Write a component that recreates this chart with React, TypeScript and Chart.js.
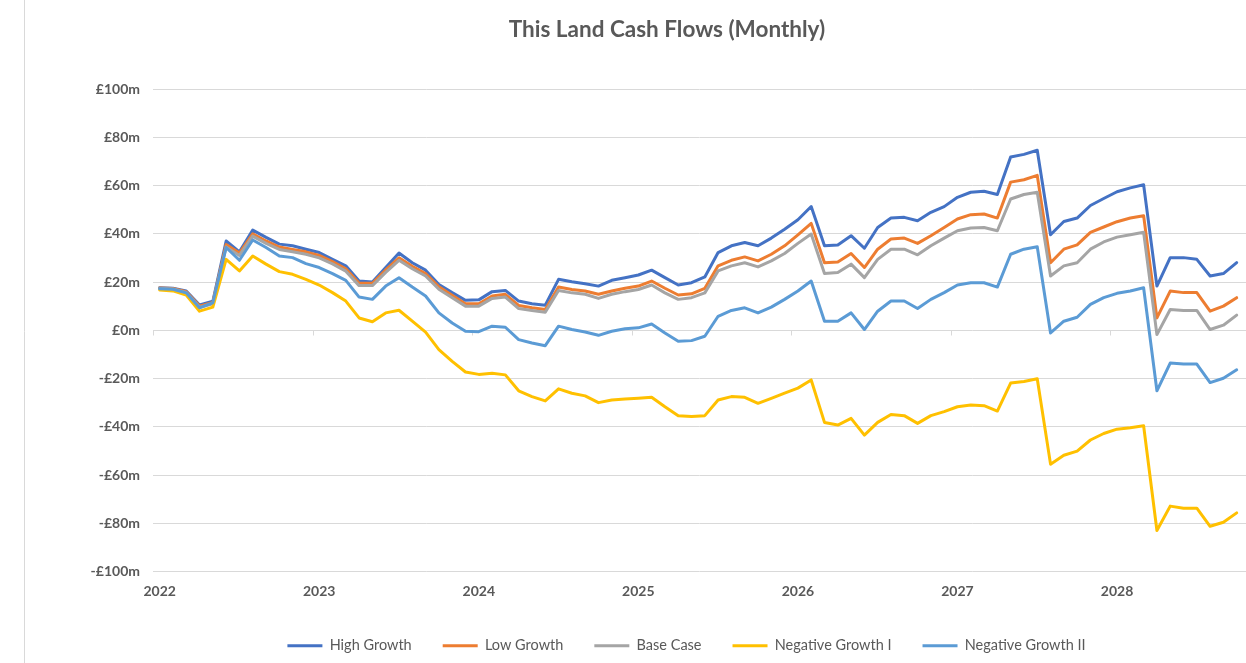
import React, { useEffect, useRef } from 'react';
import { Chart, registerables } from 'chart.js';

Chart.register(...registerables);

const chartTitle = 'This Land Cash Flows (Monthly)';
const seriesNames = ['High Growth', 'Low Growth', 'Base Case', 'Negative Growth I', 'Negative Growth II'];
const yearLabels = ['2022', '2023', '2024', '2025', '2026', '2027', '2028'];
const monthsPerYear = 12;

const highGrowth = [
  17.6, 17.4, 16.3, 10.5, 12, 37, 32.5, 41.5, 38.5, 35.7, 35, 33.6, 32.2, 29.4, 26.7, 20.4, 20, 26, 32, 28, 24.9, 19, 15.6, 12.4, 12.6,
  16, 16.5, 12.1, 11, 10.4, 21.1, 20.1, 19.3, 18.3, 20.7, 21.8, 22.9, 24.9, 21.8, 18.75, 19.7, 22.1, 32.2, 35, 36.4, 35, 38.2, 41.9, 45.8,
  51.3, 35, 35.3, 39.2, 34, 42.6, 46.5, 46.8, 45.4, 48.9, 51.25, 55.1, 57.2, 57.6, 56.25, 71.8, 72.9, 74.6, 39.6, 45.1, 46.5, 51.7, 54.6, 57.4,
  59, 60.3, 18.3, 30.1, 30.1, 29.4, 22.5, 23.5, 28,
];
const lowGrowth = [
  17.5, 17.3, 16, 10, 11.5, 35.5, 32, 40, 37, 34.5, 33.5, 32.5, 31, 28.5, 25.5, 19.5, 19.5, 25, 30, 26.5, 23.5, 18, 14.5, 11, 11,
  14.2, 14.9, 10.3, 9.3, 8.6, 17.9, 16.9, 16.25, 14.9, 16.25, 17.4, 18.3, 20.4, 17.4, 14.6, 15.1, 17.4, 26.7, 29, 30.4, 28.75, 31.5, 35, 39.5,
  44.3, 28, 28.3, 31.8, 26, 33.6, 37.8, 38.2, 36, 39.2, 42.6, 46.1, 47.9, 48.2, 46.5, 61.4, 62.4, 64.2, 28, 33.6, 35.4, 40.6, 42.8, 45,
  46.5, 47.5, 5.1, 16.25, 15.6, 15.6, 7.9, 10, 13.5,
];
const baseCase = [
  17.4, 17.1, 15.7, 9.5, 11, 34.5, 31, 39, 36, 33.5, 32.5, 31.5, 30, 27.5, 24.5, 18.5, 18.5, 24, 29, 25.5, 22.5, 17, 13.5, 10, 10,
  13.2, 13.75, 9, 8.2, 7.5, 16.5, 15.5, 14.9, 13.2, 14.9, 16, 16.9, 18.75, 15.5, 12.8, 13.5, 15.5, 24.6, 26.7, 28, 26.25, 28.75, 31.8, 36,
  39.9, 23.5, 23.9, 27.4, 21.8, 29.4, 33.6, 33.6, 31.25, 35, 38.2, 41.25, 42.4, 42.6, 41.25, 54.4, 56.25, 57.2, 22.5, 26.7, 28, 33.6, 36.6, 38.6,
  39.6, 40.6, -1.8, 8.6, 8.2, 8.2, 0.3, 2.1, 6.25,
];
const negativeGrowthI = [
  16.7, 16.3, 14.6, 7.9, 9.6, 29.4, 24.6, 30.8, 27.4, 24.3, 23.2, 21.1, 18.75, 15.6, 12.1, 5.1, 3.5, 7.2, 8.3, 3.75, -0.8, -8, -12.9, -17.3, -18.3,
  -17.8, -18.5, -25.1, -27.5, -29.3, -24.3, -26.1, -27.2, -30, -28.9, -28.5, -28.2, -27.8, -31.7, -35.4, -35.8, -35.4, -28.9, -27.5, -27.8, -30.3, -28.2, -26.1, -24,
  -20.6, -38.2, -39.3, -36.5, -43.5, -38.2, -34.9, -35.4, -38.6, -35.4, -33.75, -31.7, -31, -31.25, -33.5, -21.9, -21.25, -20.1, -55.5, -51.8, -50.1, -45.5, -42.8, -41,
  -40.4, -39.6, -83, -72.9, -73.75, -73.75, -81.25, -79.6, -75.7,
];
const negativeGrowthII = [
  17.2, 17, 15.5, 9.3, 11.4, 34.3, 29, 37.4, 34.3, 30.8, 30.1, 27.6, 26, 23.5, 20.7, 13.75, 12.8, 18.3, 21.8, 17.9, 14.2, 7.2, 3, -0.4, -0.6,
  1.7, 1.25, -3.9, -5.3, -6.4, 1.7, 0.3, -0.7, -2.1, -0.4, 0.6, 1, 2.6, -1.1, -4.6, -4.3, -2.5, 5.8, 8.2, 9.3, 7.2, 9.6, 12.8, 16.25,
  20.4, 3.75, 3.75, 7.2, 0.3, 7.9, 12.1, 12.1, 9, 12.8, 15.6, 18.75, 19.7, 19.7, 17.9, 31.5, 33.6, 34.6, -1.1, 3.75, 5.4, 10.7, 13.5, 15.3,
  16.25, 17.6, -25.1, -13.6, -14, -14, -21.7, -19.9, -16.4,
];

const seriesValues = [highGrowth, lowGrowth, baseCase, negativeGrowthI, negativeGrowthII];
const seriesColors = ['#4472C4', '#ED7D31', '#A5A5A5', '#FFC000', '#5B9BD5'];

const FONT = "Lato, 'Open Sans', sans-serif";
const TEXT = '#595959';
const GRID = '#d9d9d9';

const extrasPlugin = {
  id: 'extras',
  afterLayout(chart: any) {
    if (chart.legend) {
      chart.legend.left -= 13;
      chart.legend.right -= 13;
    }
  },
  beforeDatasetsDraw(chart: any) {
    const { ctx } = chart;
    const xs = chart.scales.x;
    const ys = chart.scales.y;
    const y0 = Math.round(ys.getPixelForValue(0)) + 0.5;
    ctx.save();
    ctx.strokeStyle = GRID;
    ctx.lineWidth = 1;
    ctx.beginPath();
    for (let k = 0; k <= yearLabels.length; k++) {
      const x = Math.round(xs.getPixelForValue(k * monthsPerYear - 0.5)) + 0.5;
      ctx.moveTo(x, y0);
      ctx.lineTo(x, y0 + 5);
    }
    ctx.stroke();
    ctx.restore();
  },
  afterDraw(chart: any) {
    const { ctx } = chart;
    ctx.save();
    ctx.strokeStyle = GRID;
    ctx.lineWidth = 1;
    ctx.beginPath();
    ctx.moveTo(24.5, 0);
    ctx.lineTo(24.5, chart.height);
    ctx.stroke();
    ctx.fillStyle = TEXT;
    ctx.font = `bold 22.5px ${FONT}`;
    ctx.textAlign = 'center';
    ctx.textBaseline = 'middle';
    ctx.fillText(chartTitle, 667, 30);
    ctx.restore();
  },
};

export default function App() {
  const ref = useRef<HTMLCanvasElement | null>(null);

  useEffect(() => {
    if (!ref.current) return;
    const datasets = seriesNames.map((name, s) => ({
      label: name,
      data: seriesValues[s].map((v, i) => ({ x: i, y: v })),
      borderColor: seriesColors[s],
      backgroundColor: seriesColors[s],
      borderWidth: 3,
      pointRadius: 0,
      pointHoverRadius: 0,
      tension: 0,
      fill: false,
      borderJoinStyle: 'round' as const,
      borderCapStyle: 'round' as const,
      order: seriesNames.length - s,
    }));

    const chart = new Chart(ref.current, {
      type: 'line',
      data: { datasets },
      plugins: [extrasPlugin],
      options: {
        animation: false,
        responsive: true,
        maintainAspectRatio: false,
        layout: { padding: { left: 0, right: 0, top: 89, bottom: 0 } },
        plugins: {
          tooltip: { enabled: false },
          title: { display: false },
          legend: {
            position: 'bottom',
            fullSize: false,
            labels: {
              usePointStyle: true,
              pointStyle: 'line',
              pointStyleWidth: 35,
              boxHeight: 14,
              padding: 31,
              color: TEXT,
              font: { family: FONT, size: 14.5 },
              sort: (a: any, b: any) => a.datasetIndex - b.datasetIndex,
            },
          },
        },
        scales: {
          x: {
            type: 'linear',
            min: -0.5,
            max: 81.7,
            grid: { display: false, drawTicks: false },
            border: { display: false },
            afterBuildTicks: (scale: any) => {
              scale.ticks = yearLabels.map((_, k) => ({ value: k * monthsPerYear }));
            },
            afterFit: (scale: any) => {
              scale.height = 36;
            },
            ticks: {
              autoSkip: false,
              maxRotation: 0,
              padding: 12,
              color: TEXT,
              font: { family: FONT, size: 14, weight: 'bold' },
              callback: (v: any) => yearLabels[Math.round(Number(v) / monthsPerYear)] ?? '',
            },
          },
          y: {
            min: -100,
            max: 100,
            grid: { color: GRID, lineWidth: 1, drawTicks: false },
            border: { display: false },
            afterFit: (scale: any) => {
              scale.width = 153;
            },
            ticks: {
              stepSize: 20,
              padding: 13,
              color: TEXT,
              font: { family: FONT, size: 14, weight: 'bold' },
              callback: (v: any) => {
                const n = Number(v);
                return n < 0 ? `-£${Math.abs(n)}m` : `£${n}m`;
              },
            },
          },
        },
      },
    });
    return () => chart.destroy();
  }, []);

  return (
    <div style={{ position: 'absolute', left: 0, top: 0, width: 1246, height: 663, background: '#fff' }}>
      <canvas ref={ref} />
    </div>
  );
}
